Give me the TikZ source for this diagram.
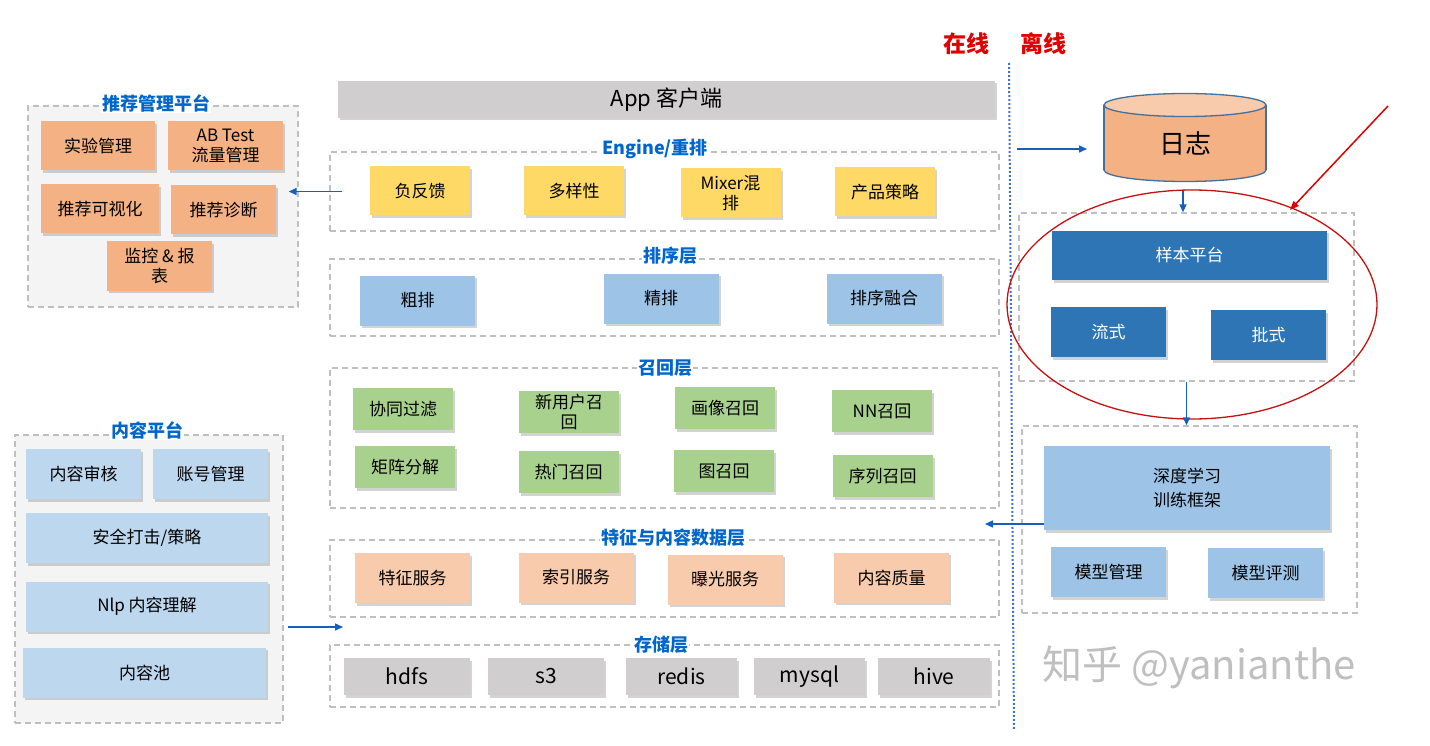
\documentclass[tikz,border=0pt]{standalone}
\usepackage{fontspec}
\newfontfamily\cjk{Noto Sans CJK SC}
\usetikzlibrary{arrows.meta,positioning,shadows}
\definecolor{titleblue}{RGB}{0,102,204}
\definecolor{arrowblue}{RGB}{21,96,189}
\definecolor{dotblue}{RGB}{68,114,196}
\definecolor{orangebox}{RGB}{244,177,131}
\definecolor{yellowbox}{RGB}{255,217,102}
\definecolor{bluebox}{RGB}{157,195,230}
\definecolor{greenbox}{RGB}{169,209,142}
\definecolor{peachbox}{RGB}{248,203,173}
\definecolor{graybox}{RGB}{208,206,206}
\definecolor{paleblue}{RGB}{189,215,238}
\definecolor{darkblue}{RGB}{46,117,182}
\definecolor{logedge}{RGB}{65,113,156}
\definecolor{onlinered}{RGB}{224,0,0}
\definecolor{ringred}{RGB}{200,16,16}
\definecolor{panelgray}{RGB}{191,191,191}
\definecolor{panelfill}{RGB}{244,244,244}

\begin{document}
\begin{tikzpicture}[x=1pt, y=-1pt, font=\cjk,
    box/.style={rectangle, inner sep=0pt, align=center, text=black,
                drop shadow={shadow xshift=2pt, shadow yshift=-2.5pt, opacity=0.35},
                font=\cjk\fontsize{17}{20}\selectfont},
    obox/.style={box, fill=orangebox, minimum height=49pt},
    ybox/.style={box, fill=yellowbox, minimum width=100pt, minimum height=49pt},
    bbox/.style={box, fill=bluebox, minimum width=115pt, minimum height=50pt},
    gbox/.style={box, fill=greenbox, minimum width=100pt, minimum height=42pt},
    pbox/.style={box, fill=peachbox, minimum width=115pt, minimum height=50pt},
    sbox/.style={box, fill=graybox, minimum height=37pt, font=\cjk\fontsize{21}{24}\selectfont},
    cbox/.style={box, fill=paleblue, minimum height=50pt},
    dbox/.style={box, fill=darkblue, text=white, minimum height=50pt},
    panel/.style={draw=panelgray, line width=1.4pt, dash pattern=on 6pt off 4pt, inner sep=0pt},
    ttl/.style={font=\cjk\bfseries\fontsize{18}{20}\selectfont, text=titleblue, fill=white, inner sep=1pt},
    arr/.style={-{Triangle[length=8pt,width=7pt]}, line width=1.5pt, arrowblue}]
\useasboundingbox (0,0) rectangle (1430,746);

% dashed panels
\node[panel, fill=panelfill, minimum width=270pt, minimum height=201pt] (mgmt) at (163,206.5) {};
\node[panel, fill=panelfill, minimum width=268pt, minimum height=288pt] (content) at (149,579) {};
\foreach \n/\cy/\h in {engine/191.5/79pt, rank/297.5/77pt, recall/438/140pt,
                       feature/578.5/77pt, store/676/62pt}
    \node[panel, minimum width=669pt, minimum height=\h] (\n) at (664.5,\cy) {};
\node[panel, minimum width=335pt, minimum height=168pt] (sample) at (1186.5,297) {};
\node[panel, minimum width=335pt, minimum height=187pt] (model) at (1189.5,519.5) {};

% panel titles
\node[ttl] at (156,103) {推荐管理平台};
\node[ttl] at (147,430) {内容平台};
\node[ttl] at (655,149) {Engine/重排};
\node[ttl] at (670,256) {排序层};
\node[ttl] at (665,368) {召回层};
\node[ttl] at (673,538) {特征与内容数据层};
\node[ttl] at (661,645) {存储层};

% recommendation management
\node[obox, minimum width=114pt] (exp) at (98,146) {实验管理};
\node[obox, minimum width=115pt] (abtest) at (225.5,146) {AB Test\\流量管理};
\node[obox, minimum width=118pt] (viz) at (100,209) {推荐可视化};
\node[obox, minimum width=105pt] (diag) at (223.5,210) {推荐诊断};
\node[obox, minimum width=105pt] (monitor) at (159.5,266) {监控 \& 报\\表};

% content platform
\node[cbox, minimum width=115pt] (audit) at (83.5,474) {内容审核};
\node[cbox, minimum width=115pt] (account) at (210.5,474) {账号管理};
\node[cbox, minimum width=242pt] (safety) at (147,538) {安全打击/策略};
\node[cbox, minimum width=242pt] (nlp) at (147,606.5) {Nlp 内容理解};
\node[cbox, minimum width=243pt] (pool) at (144.5,672.5) {内容池};

% online stack
\node[box, fill=graybox, minimum width=657pt, minimum height=37pt,
      font=\cjk\fontsize{22}{24}\selectfont] (app) at (666.5,99.5) {App 客户端};
\foreach \n/\cx/\cy/\txt in {neg/420/191/负反馈, div/574/191/多样性,
                             mix/730.5/193/{Mixer混\\排}, strat/885/192/产品策略}
    \node[ybox] (\n) at (\cx,\cy) {\txt};
\foreach \n/\cx/\cy/\txt in {coarse/417.5/300.5/粗排, fine/661/298.5/精排, fuse/884/298.5/排序融合}
    \node[bbox] (\n) at (\cx,\cy) {\txt};
\foreach \n/\cx/\cy/\txt in {cf/403/409/协同过滤, newuser/569/412/{新用户召\\回},
                             profile/725/408/画像召回, nn/882/411/NN召回,
                             mf/405/467/矩阵分解, hot/568.5/472/热门召回,
                             graph/724/471/图召回, seq/882.5/476/序列召回}
    \node[gbox] (\n) at (\cx,\cy) {\txt};
\foreach \n/\cx/\cy/\txt in {feat/412.5/578/特征服务, index/576/577.5/索引服务,
                             expo/725/579.5/曝光服务, quality/891.5/577.5/内容质量}
    \node[pbox] (\n) at (\cx,\cy) {\txt};
\foreach \n/\cx/\w in {hdfs/407/126pt, s3/546/116pt, redis/681.5/111pt,
                       mysql/809.5/111pt, hive/934/112pt}
    \node[sbox, minimum width=\w] (\n) at (\cx,676.5) {\n};

% online / offline split
\node[font=\cjk\bfseries\fontsize{23}{25}\selectfont, text=onlinered] (online) at (966.5,43.5) {在线};
\node[font=\cjk\bfseries\fontsize{23}{25}\selectfont, text=onlinered] (offline) at (1043,43.5) {离线};
\coordinate (splittop) at (1009,63);
\coordinate (splitbot) at (1014,730);
\draw[dotblue, line width=2pt, dash pattern=on 2pt off 2pt] (splittop) -- (splitbot);

% log store
\draw[logedge, line width=1.3pt, fill=orangebox] (1185,170) ellipse [x radius=81, y radius=11.5];
\fill[orangebox] (1104,105) rectangle (1266,170);
\draw[logedge, line width=1.3pt] (1104,105) -- (1104,170) (1266,105) -- (1266,170);
\draw[logedge, line width=1.3pt, fill=peachbox] (1185,105) ellipse [x radius=81, y radius=11.5];
\node[font=\cjk\fontsize{26}{28}\selectfont] (log) at (1185,143) {日志};
\coordinate (logbase) at (1183,191);

% offline training
\node[dbox, minimum width=275pt, minimum height=49pt] (platform) at (1189.5,255.5) {样本平台};
\node[dbox, minimum width=115pt] (stream) at (1108.5,332) {流式};
\node[dbox, minimum width=115pt] (batch) at (1268.5,335) {批式};
\node[box, fill=bluebox, minimum width=286pt, minimum height=84pt,
      font=\cjk\fontsize{17}{24}\selectfont] (dl) at (1187,488) {深度学习\\训练框架};
\node[bbox] (modelmgmt) at (1108.5,572) {模型管理};
\node[bbox] (modeleval) at (1265.5,573) {模型评测};
\draw[ringred, line width=1.3pt] (1192,304.5) ellipse [x radius=185, y radius=114.5];

% arrows
\draw[arr] ([xshift=13pt]engine.west) -- ([xshift=-10pt]engine.west -| mgmt.east);
\coordinate (cin) at (288,627);
\coordinate (cout) at (343,627);
\draw[arr] (cin) -- (cout);
\coordinate (login) at (1017,149);
\draw[arr] (login) -- ([xshift=-98pt]log.center |- login);
\draw[arr] (logbase) -- (logbase |- sample.north);
\draw[arr] (sample.south) -- (sample.south |- model.north);
\draw[arr] ([yshift=-36pt]dl.west) -- ([yshift=-36pt]dl.west -| 985,0);
\coordinate (redtail) at (1388,106);
\draw[-{Triangle[length=9pt,width=7pt]}, line width=1.5pt, onlinered] (redtail) -- (1290,210);

% watermark
\node[text=gray!50, font=\cjk\fontsize{40}{42}\selectfont] (mark) at (1199,667) {知乎 @yanianthe};
\end{tikzpicture}
\end{document}
